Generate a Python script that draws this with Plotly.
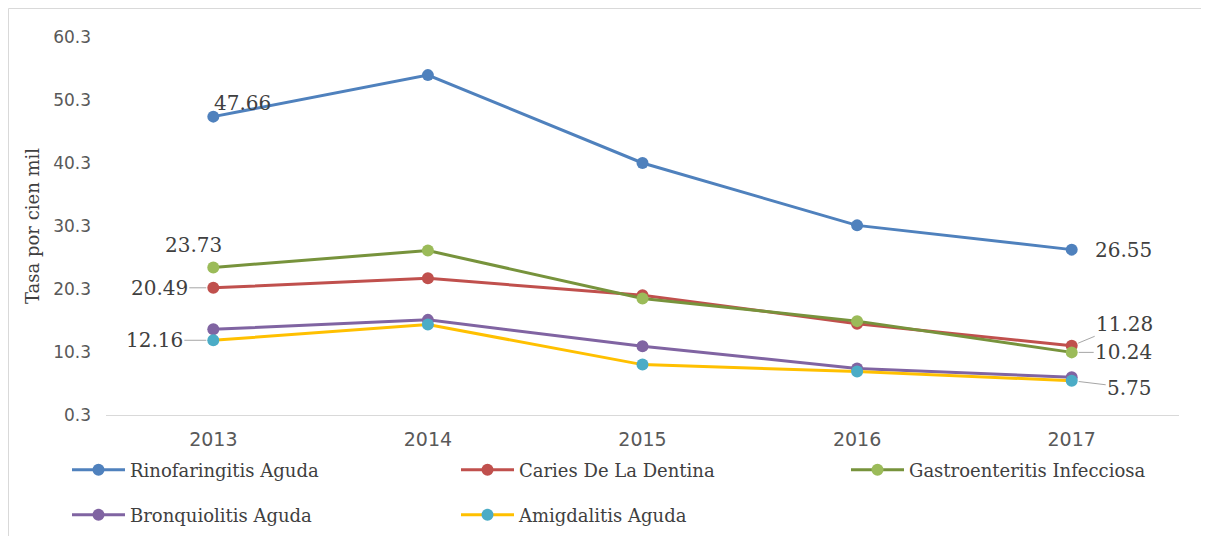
import plotly.graph_objects as go

years = ["2013", "2014", "2015", "2016", "2017"]
rinofaringitis = [47.66, 54.25, 40.3, 30.4, 26.55]
caries = [20.49, 22.0, 19.3, 14.8, 11.28]
gastro = [23.73, 26.4, 18.8, 15.2, 10.24]
bronquiolitis = [13.9, 15.4, 11.2, 7.7, 6.3]
amigdalitis = [12.16, 14.65, 8.3, 7.2, 5.75]
y_ticks = [0.3, 10.3, 20.3, 30.3, 40.3, 50.3, 60.3]

# page body has an 8px margin; figure is sized so the page fills the window
OFF = 8
W, H = 1209 - OFF, 536 - OFF
ml, mt = 106 - OFF, 37 - OFF
plot_right, plot_bottom = 1179 - OFF, 415 - OFF
mr, mb = W - plot_right, H - plot_bottom
pw, ph = W - ml - mr, H - mt - mb

def px_x(p):  # reference page pixel -> paper fraction
    return (p - OFF - ml) / pw

def px_y(p):
    return (H - mb - (p - OFF)) / ph

series = [
    ("Rinofaringitis Aguda", rinofaringitis, "#4F81BD", "#4F81BD", "legend", 67, 470),
    ("Caries De La Dentina", caries, "#C0504D", "#C0504D", "legend2", 456, 470),
    ("Gastroenteritis Infecciosa", gastro, "#77933C", "#9BBB59", "legend3", 846, 470),
    ("Bronquiolitis Aguda", bronquiolitis, "#8064A2", "#8064A2", "legend4", 67, 515),
    ("Amigdalitis Aguda", amigdalitis, "#FFC000", "#4BACC6", "legend5", 456, 515),
]

fig = go.Figure()
legends = {}
for name, vals, lc, mc, lg, lx, ly in series:
    fig.add_trace(go.Scatter(
        x=years, y=vals, name=name, mode="lines+markers",
        line=dict(color=lc, width=3),
        marker=dict(color=mc, size=12),
        legend=lg,
    ))
    legends[lg] = dict(x=px_x(lx), y=px_y(ly), xanchor="left", yanchor="middle",
                       font=dict(family="DejaVu Serif", size=18, color="#404040"),
                       itemwidth=53, bgcolor="rgba(0,0,0,0)")

label_font = dict(family="DejaVu Serif", size=20, color="#404040")
lead = "#A6A6A6"

def lab(xi, vals, xs=0, ys=0, arrow=False, ax=0, ay=0):
    d = dict(x=xi, y=vals[xi], xref="x", yref="y",
             text=f"{vals[xi]:.2f}", font=label_font)
    if arrow:
        d.update(showarrow=True, ax=ax, ay=ay, arrowhead=0, arrowwidth=1,
                 arrowcolor=lead, standoff=7)
    else:
        d.update(showarrow=False, xshift=xs, yshift=ys)
    return d

annotations = [
    lab(0, rinofaringitis, xs=29, ys=14),
    lab(0, gastro, xs=-20, ys=22),
    lab(0, caries, arrow=True, ax=-54, ay=0),
    lab(0, amigdalitis, arrow=True, ax=-59, ay=0),
    lab(4, rinofaringitis, xs=52, ys=0),
    lab(4, caries, arrow=True, ax=53, ay=-22),
    lab(4, gastro, arrow=True, ax=52, ay=0),
    lab(4, amigdalitis, arrow=True, ax=58, ay=7),
]

fig.update_layout(
    width=W, height=H,
    margin=dict(l=ml, r=mr, t=mt, b=mb, autoexpand=False),
    paper_bgcolor="white", plot_bgcolor="white",
    showlegend=True,
    xaxis=dict(type="category", range=[-0.5, 4.5], showgrid=False, zeroline=False,
               showline=True, linecolor="#D9D9D9", linewidth=1, ticks="",
               tickfont=dict(family="DejaVu Sans", size=19, color="#595959"),
               ticklabelstandoff=7, automargin=False),
    yaxis=dict(range=[0.3, 60.3], tickvals=y_ticks, ticktext=[f"{v:.1f}" for v in y_ticks],
               showgrid=False, zeroline=False, showline=False, ticks="",
               tickfont=dict(family="DejaVu Sans", size=17, color="#595959"),
               ticklabelstandoff=14, automargin=False,
               title=dict(text="Tasa por cien mil", standoff=8,
                          font=dict(family="DejaVu Serif", size=18, color="#404040"))),
    annotations=annotations,
    shapes=[dict(type="rect", xref="paper", yref="paper",
                 x0=px_x(8.5), x1=px_x(1230), y0=px_y(560), y1=px_y(8.5),
                 line=dict(color="#D9D9D9", width=1), fillcolor="rgba(0,0,0,0)", layer="below")],
    **legends,
)

fig.write_html("out.html")
